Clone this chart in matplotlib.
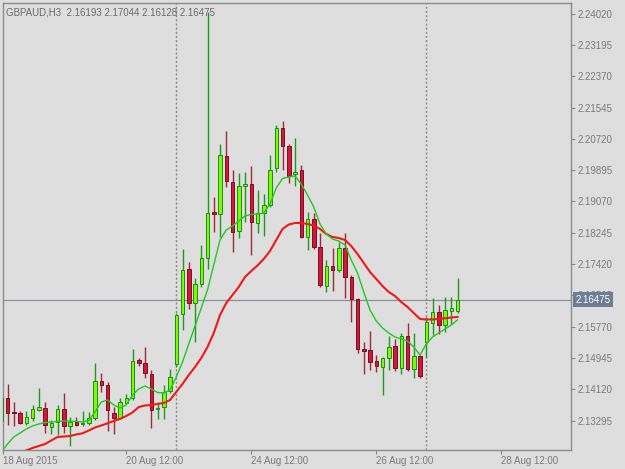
import matplotlib
matplotlib.use('Agg')
import matplotlib.pyplot as plt
import numpy as np

# GBPAUD H3 candles (oldest first)
opens = [2.13284, 2.13882, 2.13529, 2.13487, 2.13239, 2.13371, 2.13574, 2.13618,
         2.13133, 2.13265, 2.13592, 2.13160, 2.13257, 2.13197, 2.13223, 2.13371,
         2.14338, 2.14233, 2.13502, 2.13355, 2.13766, 2.13890, 2.14892, 2.14805,
         2.14515, 2.13587, 2.13653, 2.14066, 2.14787, 2.16096, 2.17282, 2.16402,
         2.16887, 2.17586, 2.18793, 2.18732, 2.20282, 2.19584, 2.18300, 2.19470,
         2.19531, 2.18495, 2.18759, 2.18969, 2.19945, 2.21007, 2.20524, 2.19787,
         2.19900, 2.18142, 2.18600, 2.17862, 2.16855, 2.17369, 2.17256, 2.17836,
         2.17071, 2.16492, 2.15174, 2.15155, 2.14865, 2.14715, 2.14936, 2.15253,
         2.14673, 2.15524, 2.14641, 2.14997, 2.15371, 2.15875, 2.16165, 2.15801,
         2.16191, 2.16193]
highs = [2.13943, 2.14251, 2.13792, 2.13547, 2.13547, 2.13705, 2.14161, 2.13792,
         2.13310, 2.13705, 2.14014, 2.13381, 2.13397, 2.13547, 2.13529, 2.14805,
         2.14541, 2.14320, 2.13653, 2.13882, 2.13995, 2.15182, 2.14944, 2.15221,
         2.14628, 2.13792, 2.14233, 2.14654, 2.16130, 2.17818, 2.17483, 2.17053,
         2.17923, 2.24065, 2.19175, 2.20577, 2.20928, 2.19913, 2.19821, 2.19847,
         2.20011, 2.19373, 2.19267, 2.20295, 2.21073, 2.21192, 2.20585, 2.20743,
         2.20032, 2.18780, 2.18766, 2.18239, 2.17528, 2.17836, 2.18002, 2.18239,
         2.17132, 2.16513, 2.15353, 2.15669, 2.15023, 2.14979, 2.15524, 2.15445,
         2.15603, 2.15854, 2.15603, 2.15023, 2.16025, 2.16526, 2.16341, 2.16552,
         2.16539, 2.17044]
lows = [2.13231, 2.13178, 2.13152, 2.13204, 2.13170, 2.13284, 2.13555, 2.12975,
        2.12933, 2.12915, 2.12959, 2.12625, 2.13160, 2.13152, 2.13178, 2.13310,
        2.14056, 2.13020, 2.12941, 2.13328, 2.13750, 2.13837, 2.14733, 2.14417,
        2.13091, 2.13328, 2.13349, 2.14022, 2.14707, 2.15682, 2.16236, 2.15366,
        2.16824, 2.17290, 2.18274, 2.18142, 2.19444, 2.17746, 2.18100, 2.18537,
        2.17659, 2.18239, 2.18160, 2.18933, 2.19855, 2.19900, 2.19557, 2.19478,
        2.18100, 2.17791, 2.17818, 2.16824, 2.16684, 2.16710, 2.17219, 2.16518,
        2.15901, 2.15068, 2.14522, 2.14628, 2.14575, 2.13969, 2.14628, 2.14602,
        2.14522, 2.14602, 2.14417, 2.14430, 2.14971, 2.15551, 2.15577, 2.15630,
        2.15840, 2.16128]
closes = [2.13882, 2.13502, 2.13487, 2.13223, 2.13381, 2.13600, 2.13645, 2.13178,
          2.13223, 2.13592, 2.13160, 2.13265, 2.13186, 2.13239, 2.13355, 2.14346,
          2.14225, 2.13574, 2.13355, 2.13792, 2.13898, 2.14873, 2.14805, 2.14536,
          2.13574, 2.13639, 2.14056, 2.14451, 2.16078, 2.17264, 2.16386, 2.16887,
          2.17586, 2.18774, 2.18748, 2.20295, 2.19602, 2.18274, 2.19470, 2.19531,
          2.18521, 2.18759, 2.18969, 2.19908, 2.21007, 2.20524, 2.19742, 2.19860,
          2.18142, 2.18621, 2.17857, 2.16861, 2.17369, 2.17264, 2.17836, 2.17071,
          2.16492, 2.15174, 2.15137, 2.14839, 2.14725, 2.14931, 2.15247, 2.14681,
          2.15524, 2.14654, 2.14997, 2.14457, 2.15893, 2.16157, 2.15801, 2.16210,
          2.16249, 2.16475]

# moving averages as drawn on the chart
ma_fast = [2.12466, 2.12677, 2.12862, 2.12967, 2.13073, 2.13152, 2.13204, 2.13244,
           2.13257, 2.13270, 2.13284, 2.13284, 2.13270, 2.13257, 2.13297, 2.13521,
           2.13784, 2.13837, 2.13705, 2.13626, 2.13705, 2.13969, 2.14127, 2.14206,
           2.14127, 2.14035, 2.14022, 2.14101, 2.14443, 2.14839, 2.15313, 2.15788,
           2.16262, 2.16737, 2.17396, 2.18055, 2.18318, 2.18424, 2.18556, 2.18687,
           2.18727, 2.18740, 2.18766, 2.19004, 2.19425, 2.19676, 2.19715, 2.19742,
           2.19531, 2.19241, 2.18925, 2.18476, 2.18213, 2.18081, 2.18028, 2.17923,
           2.17527, 2.17185, 2.16684, 2.16210, 2.15920, 2.15735, 2.15603, 2.15498,
           2.15445, 2.15392, 2.15234, 2.15023, 2.15313, 2.15498, 2.15603, 2.15709,
           2.15814, 2.15946]
ma_slow = [2.12203, 2.12282, 2.12361, 2.12440, 2.12506, 2.12572, 2.12625, 2.12677,
           2.12769, 2.12862, 2.12875, 2.12888, 2.12928, 2.12959, 2.13033, 2.13112,
           2.13165, 2.13223, 2.13284, 2.13337, 2.13416, 2.13508, 2.13653, 2.13692,
           2.13705, 2.13732, 2.13758, 2.13837, 2.14048, 2.14259, 2.14496, 2.14707,
           2.14944, 2.15234, 2.15603, 2.16078, 2.16394, 2.16605, 2.16816, 2.17080,
           2.17238, 2.17383, 2.17554, 2.17765, 2.18055, 2.18345, 2.18463, 2.18503,
           2.18503, 2.18476, 2.18437, 2.18345, 2.18213, 2.18134, 2.18107, 2.18055,
           2.17897, 2.17686, 2.17449, 2.17211, 2.17027, 2.16842, 2.16684, 2.16578,
           2.16420, 2.16289, 2.16130, 2.15973, 2.15960, 2.15960, 2.15973, 2.15991,
           2.16012, 2.16025]

price_ticks = [2.13295, 2.14120, 2.14945, 2.15770, 2.16595, 2.17420, 2.18245,
               2.19070, 2.19895, 2.20720, 2.21545, 2.22370, 2.23195, 2.24020]
date_labels = ['18 Aug 2015', '20 Aug 12:00', '24 Aug 12:00', '26 Aug 12:00', '28 Aug 12:00']
date_pos = [0.3, 20, 40, 60, 80]
separators = [28, 68]

BG = '#dedede'
GREY = '#7a7a7a'


def main():
    o = np.array(opens)
    h = np.array(highs)
    l = np.array(lows)
    c = np.array(closes)
    x = np.arange(len(o))
    up = c >= o

    fig = plt.figure(figsize=(6.25, 4.69), dpi=100, facecolor=BG)
    ax = fig.add_axes([3 / 625, 19 / 469, 568 / 625, 447 / 469])
    ax.set_facecolor(BG)

    for s in separators:
        ax.axvline(s, color='#8a8a8a', lw=1, ls=(0, (1.5, 1.5)), zorder=1)
    ax.axhline(c[-1], color='#8a8f98', lw=0.9, zorder=1)

    ax.vlines(x[up], l[up], h[up], color='#1c9a1c', lw=1, zorder=2)
    ax.vlines(x[~up], l[~up], h[~up], color='#9c2a38', lw=1, zorder=2)
    bottom = np.minimum(o, c)
    height = np.maximum(np.abs(c - o), 0.00004)
    ax.bar(x[up], height[up], bottom=bottom[up], width=0.56,
           color='#7cfc00', edgecolor='#1c8c1c', lw=0.7, zorder=3)
    ax.bar(x[~up], height[~up], bottom=bottom[~up], width=0.56,
           color='#d4163c', edgecolor='#7a1020', lw=0.7, zorder=3)

    ax.plot(x, ma_slow, color='#f01818', lw=1.5, zorder=4)
    ax.plot(x, ma_fast, color='#22c822', lw=1.0, zorder=5)

    ax.set_xlim(0.28, 91.16)
    ax.set_ylim(2.12519, 2.24302)

    ax.yaxis.tick_right()
    ax.set_yticks(price_ticks)
    ax.set_yticklabels(['{:.5f}'.format(p) for p in price_ticks])
    ax.set_xticks(date_pos)
    ax.set_xticklabels(date_labels, ha='left')
    ax.tick_params(axis='both', colors='#888888', labelcolor=GREY,
                   labelsize=7, length=3, width=0.8, pad=1.5,
                   labelfontfamily='Liberation Sans')
    for sp in ax.spines.values():
        sp.set_color('#8c8c8c')
        sp.set_linewidth(1)

    ax.annotate('{:.5f}'.format(c[-1]), xy=(1.0, c[-1]),
                xycoords=('axes fraction', 'data'), xytext=(3, 0),
                textcoords='offset points', ha='left', va='center',
                fontsize=7, family='Liberation Sans', color='white',
                bbox=dict(boxstyle='square,pad=0.25', fc='#6d7d95', ec='none'),
                annotation_clip=False, zorder=10)

    title = 'GBPAUD,H3  {:.5f} {:.5f} {:.5f} {:.5f}'.format(o[-1], h[-1], l[-1], c[-1])
    ax.text(0.005, 0.99, title, transform=ax.transAxes, ha='left', va='top',
            fontsize=7, family='Liberation Sans', color='#6a6a6a')

    fig.savefig('out.png', dpi=100, facecolor=BG)


if __name__ == '__main__':
    main()
